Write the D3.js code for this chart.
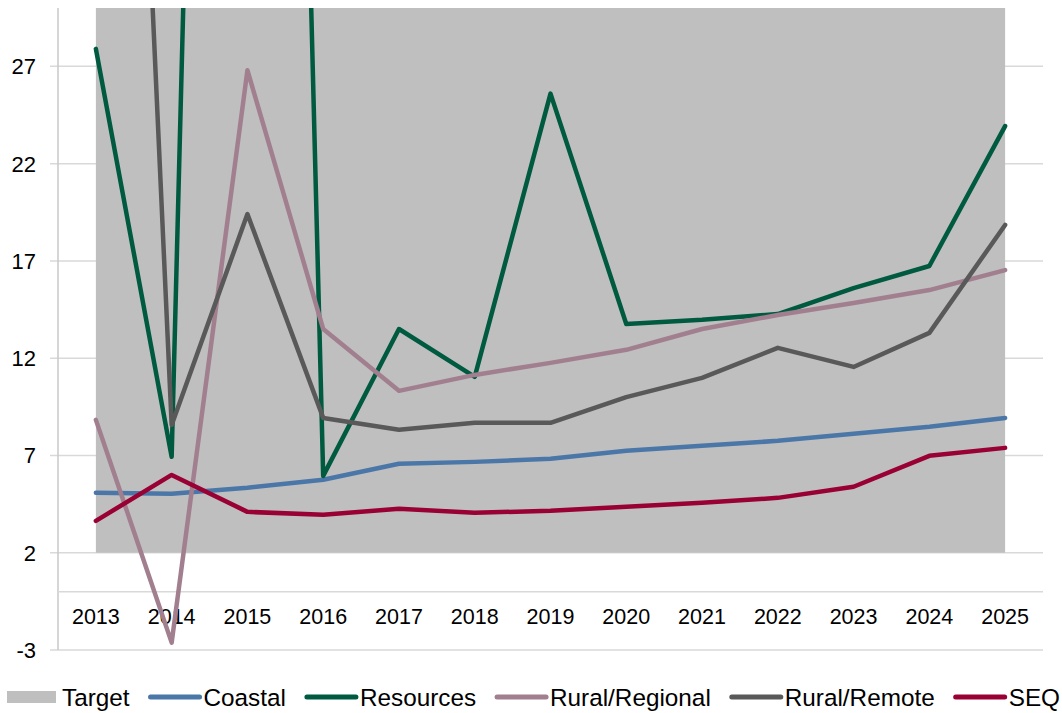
<!DOCTYPE html>
<html>
<head>
<meta charset="utf-8">
<script src="https://cdn.jsdelivr.net/npm/d3@7"></script>
<style>
  body{margin:0;background:#fff;}
  svg{display:block;font-family:"Liberation Sans",Arial,sans-serif;}
</style>
</head>
<body>
<svg width="1062" height="713"></svg>
<script>
const years=['2013','2014','2015','2016','2017','2018','2019','2020','2021','2022','2023','2024','2025'];
const targetLow=[2,2,2,2,2,2,2,2,2,2,2,2,2];
const targetHigh=[30,30,30,30,30,30,30,30,30,30,30,30,30];
const coastal=[5.08,5.03,5.34,5.75,6.57,6.67,6.83,7.24,7.5,7.75,8.11,8.47,8.93];
const resources=[27.9,6.93,158,5.95,13.5,11.04,25.6,13.76,13.97,14.27,15.6,16.74,23.93];
const ruralRegional=[8.83,-2.62,26.8,13.5,10.32,11.14,11.76,12.43,13.5,14.22,14.84,15.5,16.53];
const ruralRemote=[94,8.57,19.41,8.93,8.32,8.68,8.68,10.0,10.99,12.53,11.55,13.3,18.85];
const seq=[3.64,6.0,4.1,3.95,4.26,4.05,4.16,4.36,4.57,4.82,5.39,6.98,7.39];
const yTicks=[-3,2,7,12,17,22,27];

const seriesList=[
  {name:'Coastal',values:coastal,color:'#4a77a8'},
  {name:'Resources',values:resources,color:'#005a3f'},
  {name:'Rural/Regional',values:ruralRegional,color:'#a27f8f'},
  {name:'Rural/Remote',values:ruralRemote,color:'#595959'},
  {name:'SEQ',values:seq,color:'#990033'}
];

const svg=d3.select('svg');
const margin={top:8,right:19,bottom:63,left:58};
const W=1062,H=713;

const x=d3.scalePoint().domain(years).range([margin.left,W-margin.right]).padding(0.5);
const y=d3.scaleLinear().domain([-3,30]).range([H-margin.bottom,margin.top]);

svg.append('defs').append('clipPath').attr('id','plotclip')
  .append('rect').attr('x',margin.left).attr('y',margin.top)
  .attr('width',W-margin.right-margin.left).attr('height',y(-3)-margin.top);

/**** gridlines ****/
svg.append('g').selectAll('line').data(yTicks).enter().append('line')
  .attr('x1',margin.left-8).attr('x2',W-margin.right)
  .attr('y1',d=>y(d)).attr('y2',d=>y(d))
  .attr('stroke','#d9d9d9').attr('stroke-width',1.5);

/**** target area ****/
const area=d3.area().x(d=>x(d.year)).y0(d=>y(d.lo)).y1(d=>y(d.hi));
svg.append('path')
  .datum(years.map((yr,i)=>({year:yr,lo:targetLow[i],hi:targetHigh[i]})))
  .attr('d',area).attr('fill','#bfbfbf');

/**** axes lines ****/
svg.append('line').attr('x1',margin.left).attr('x2',margin.left)
  .attr('y1',margin.top).attr('y2',y(-3))
  .attr('stroke','#c8c8c8').attr('stroke-width',1.5);
svg.append('line').attr('x1',margin.left).attr('x2',W-margin.right)
  .attr('y1',y(0)).attr('y2',y(0))
  .attr('stroke','#d9d9d9').attr('stroke-width',1.5);

/**** tick labels ****/
svg.append('g').selectAll('text').data(yTicks).enter().append('text')
  .attr('x',36).attr('y',d=>y(d)).attr('dy','0.36em')
  .attr('text-anchor','end').attr('font-size',22).attr('fill','#000')
  .text(d=>d);
svg.append('g').selectAll('text').data(years).enter().append('text')
  .attr('x',d=>x(d)).attr('y',624)
  .attr('text-anchor','middle').attr('font-size',21.5).attr('fill','#000')
  .text(d=>d);

/**** lines ****/
const line=d3.line().x((d,i)=>x(years[i])).y(d=>y(d));
svg.append('g').attr('clip-path','url(#plotclip)')
  .selectAll('path').data(seriesList).enter().append('path')
  .attr('d',d=>line(d.values))
  .attr('fill','none').attr('stroke',d=>d.color)
  .attr('stroke-width',4.5).attr('stroke-linejoin','round').attr('stroke-linecap','round');

/**** legend ****/
const legendItems=[{name:'Target',color:'#bfbfbf',swatch:true}].concat(seriesList);
const lg=svg.append('g').attr('font-size',24.3);
let lx=7;
const ly=697;
legendItems.forEach(item=>{
  if(item.swatch){
    lg.append('rect').attr('x',lx).attr('y',ly-6).attr('width',49).attr('height',12).attr('fill',item.color);
  }else{
    lg.append('line').attr('x1',lx+2).attr('x2',lx+51).attr('y1',ly).attr('y2',ly)
      .attr('stroke',item.color).attr('stroke-width',5).attr('stroke-linecap','round');
  }
  const t=lg.append('text').attr('x',lx+55).attr('y',ly).attr('dy','0.36em').attr('fill','#000').text(item.name);
  lx+=55+t.node().getComputedTextLength()+19;
});
</script>
</body>
</html>
